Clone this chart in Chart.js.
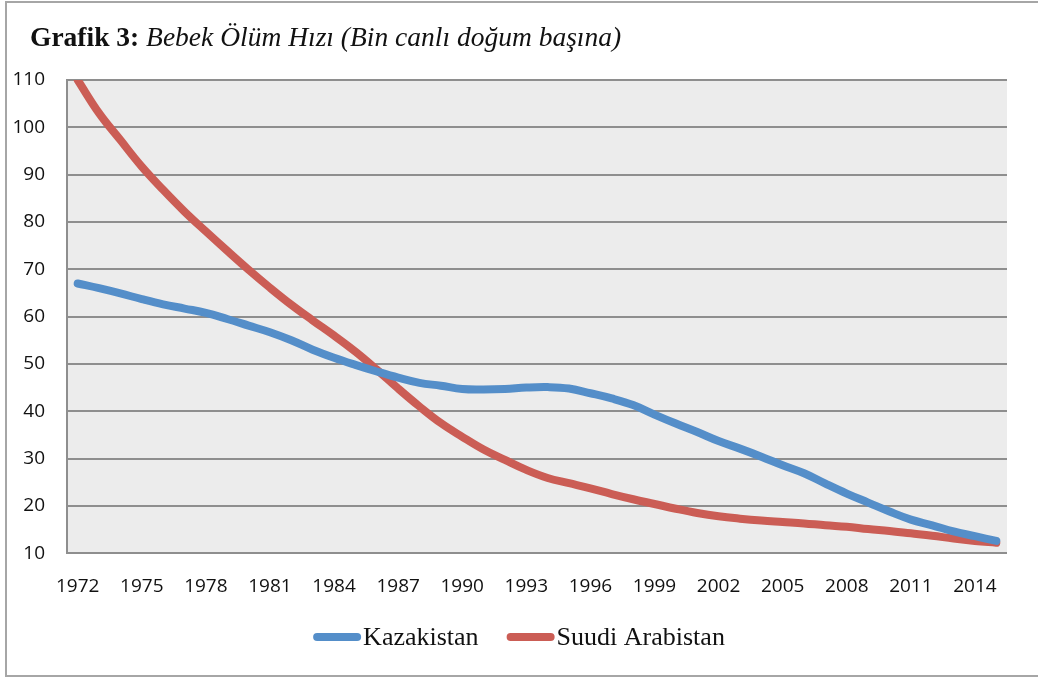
<!DOCTYPE html>
<html>
<head>
<meta charset="utf-8">
<script src="https://cdn.jsdelivr.net/npm/chart.js@4.4.1/dist/chart.umd.min.js"></script>
<style>
  html, body { margin: 0; padding: 0; background: #fff; }
  body { width: 1038px; height: 680px; position: relative; overflow: hidden; }
  #frame {
    position: absolute; left: 5px; top: 1px; width: 1050px; height: 676px;
    border: 2px solid #a6a6a6; box-sizing: border-box;
  }
  #title {
    position: absolute; left: 30px; top: 21px;
    font-family: 'Liberation Serif', 'Times New Roman', serif;
    font-size: 27.5px; color: #111; white-space: nowrap;
  }
  #title b { font-weight: bold; }
  #title i { font-style: italic; }
  #wrap { position: absolute; left: 0; top: 0; width: 1038px; height: 680px; }
</style>
</head>
<body>
<div id="frame"></div>
<div id="wrap"><canvas id="chart"></canvas></div>
<div id="title"><b>Grafik 3:</b> <i>Bebek Ölüm Hızı (Bin canlı doğum başına)</i></div>
<script>
// ── Data ──────────────────────────────────────────────────────
const years = [];
for (let y = 1972; y <= 2015; y++) years.push(String(y));

const kazakistan = [
  67.0, 66.0, 64.9, 63.7, 62.6, 61.7, 60.8, 59.5, 58.1, 56.7,
  55.0, 53.0, 51.3, 49.8, 48.4, 47.1, 46.0, 45.4, 44.7, 44.6,
  44.7, 45.0, 45.1, 44.8, 43.8, 42.7, 41.3, 39.3, 37.4, 35.6,
  33.7, 32.1, 30.4, 28.6, 26.9, 24.7, 22.6, 20.7, 18.8, 17.1,
  15.9, 14.6, 13.6, 12.6
];

const suudiArabistan = [
  110.0, 103.0, 97.3, 91.7, 86.8, 82.2, 78.0, 73.9, 69.9, 66.1,
  62.5, 59.2, 56.0, 52.6, 48.8, 44.8, 41.0, 37.5, 34.6, 31.9,
  29.7, 27.6, 25.9, 24.8, 23.7, 22.5, 21.4, 20.4, 19.4, 18.5,
  17.8, 17.3, 16.9, 16.6, 16.3, 15.9, 15.6, 15.1, 14.7, 14.2,
  13.7, 13.1, 12.6, 12.2
];

const blue = '#548ec9';
const red = '#cb5d55';
const gridGray = '#8e8e8e';
const serif = "'Liberation Serif', 'Times New Roman', serif";

// ── Plot background ───────────────────────────────────────────
const plotBg = {
  id: 'plotBg',
  beforeDraw(chart) {
    const { ctx, chartArea: a } = chart;
    ctx.save();
    ctx.fillStyle = '#ececec';
    ctx.fillRect(a.left, a.top, a.right - a.left, a.bottom - a.top);
    ctx.restore();
  }
};

// ── Legend: line swatch right against the label, like Excel ──
const excelLegend = {
  id: 'excelLegend',
  afterDraw(chart) {
    const { ctx } = chart;
    const sw = 48, gap = 2, between = 28, y = 637;
    ctx.save();
    ctx.font = `26px ${serif}`;
    const items = chart.data.datasets.map(d => ({
      text: d.label, color: d.borderColor, w: ctx.measureText(d.label).width
    }));
    const total = items.reduce((s, it) => s + sw + gap + it.w, 0) + between * (items.length - 1);
    let x = (chart.width - total) / 2;
    items.forEach(it => {
      ctx.strokeStyle = it.color;
      ctx.lineWidth = 8;
      ctx.lineCap = 'round';
      ctx.beginPath();
      ctx.moveTo(x + 4, y);
      ctx.lineTo(x + sw - 4, y);
      ctx.stroke();
      ctx.fillStyle = '#111';
      ctx.textBaseline = 'middle';
      ctx.fillText(it.text, x + sw + gap, y + 1);
      x += sw + gap + it.w + between;
    });
    ctx.restore();
  }
};

new Chart(document.getElementById('chart'), {
  type: 'line',
  data: {
    labels: years,
    datasets: [
      {
        label: 'Kazakistan', data: kazakistan,
        borderColor: blue, backgroundColor: blue,
        borderWidth: 8, tension: 0.4, pointRadius: 0,
        borderCapStyle: 'round', clip: 0
      },
      {
        label: 'Suudi Arabistan', data: suudiArabistan,
        borderColor: red, backgroundColor: red,
        borderWidth: 8, tension: 0.4, pointRadius: 0,
        borderCapStyle: 'round', clip: 0
      }
    ]
  },
  options: {
    responsive: true, maintainAspectRatio: false, animation: false,
    layout: { padding: { left: 14, right: 31, top: 80, bottom: 68 } },
    plugins: {
      tooltip: { enabled: false },
      legend: { display: false }
    },
    scales: {
      x: {
        offset: true,
        grid: { display: false },
        border: { display: false },
        ticks: {
          autoSkip: false, maxRotation: 0, padding: 14, color: '#111',
          font: { family: "'Open Sans', sans-serif", size: 19 },
          callback: (v, i) => (i % 3 === 0 ? years[i] : '')
        }
      },
      y: {
        min: 10, max: 110,
        afterFit: scale => { scale.width = 53; },
        grid: { color: gridGray, lineWidth: 2, drawTicks: false },
        border: { display: true, color: gridGray, width: 2 },
        ticks: {
          stepSize: 10, padding: 22, color: '#111',
          font: { family: "'Open Sans', sans-serif", size: 19 }
        }
      }
    }
  },
  plugins: [plotBg, excelLegend]
});
</script>
</body>
</html>
